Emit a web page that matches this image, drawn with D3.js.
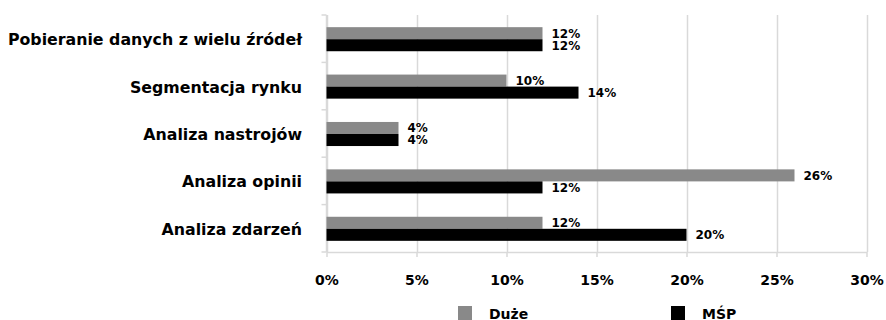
<!DOCTYPE html>
<html lang="pl">
<head>
<meta charset="utf-8">
<script src="https://cdn.jsdelivr.net/npm/d3@7"></script>
<style>
  html, body { margin: 0; padding: 0; background: #fff; }
  svg { display: block; font-family: "DejaVu Sans", Verdana, sans-serif; font-weight: bold; }
</style>
</head>
<body>
<svg id="chart" width="886" height="320"></svg>
<script>
// Categories, top to bottom
const categories = [
  "Pobieranie danych z wielu źródeł",
  "Segmentacja rynku",
  "Analiza nastrojów",
  "Analiza opinii",
  "Analiza zdarzeń"
];
const seriesNames = ["Duże", "MŚP"];
const duzeValues = [12, 10, 4, 26, 12];
const mspValues  = [12, 14, 4, 12, 20];
const xTicks = [0, 5, 10, 15, 20, 25, 30];

const colors = { "Duże": "#898989", "MŚP": "#000000" };
const gridColor = "#d9d9d9";

const svg = d3.select("#chart");
const plot = { left: 326.5, right: 866.5, top: 15, bottom: 252 };

const x = d3.scaleLinear().domain([0, 30]).range([plot.left, plot.right]);
const y0 = d3.scaleBand().domain(categories).range([plot.top, plot.bottom]);
const y1 = d3.scaleBand().domain(seriesNames).range([0, y0.bandwidth()])
  .paddingInner(0).paddingOuter(0.97);

const rows = categories.map((c, i) => ({
  category: c,
  values: [
    { series: "Duże", value: duzeValues[i] },
    { series: "MŚP", value: mspValues[i] }
  ]
}));

// Vertical gridlines
svg.append("g")
  .selectAll("line")
  .data(xTicks)
  .join("line")
  .attr("x1", d => Math.round(x(d)) + 0.5)
  .attr("x2", d => Math.round(x(d)) + 0.5)
  .attr("y1", plot.top)
  .attr("y2", plot.bottom)
  .attr("stroke", gridColor)
  .attr("stroke-width", 1.5);

// Bottom axis
const xAxis = svg.append("g")
  .attr("transform", `translate(0,${plot.bottom})`)
  .call(d3.axisBottom(x).tickValues(xTicks).tickSize(5).tickSizeOuter(0)
    .tickFormat(d => d + "%"));
xAxis.select(".domain").attr("stroke", gridColor).attr("stroke-width", 1.5);
xAxis.selectAll(".tick line").attr("stroke", gridColor).attr("stroke-width", 1.5);
xAxis.selectAll(".tick text")
  .attr("y", 28)
  .attr("dy", "0.35em")
  .attr("fill", "#000")
  .style("font-size", "14px")
  .style("font-family", "\"DejaVu Sans\", sans-serif")
  .style("font-weight", "bold");

// Left axis: category boundaries as ticks
const yAxisG = svg.append("g");
yAxisG.append("line")
  .attr("x1", plot.left).attr("x2", plot.left)
  .attr("y1", plot.top).attr("y2", plot.bottom)
  .attr("stroke", gridColor).attr("stroke-width", 1.5);
const boundaries = categories.map(c => y0(c)).concat([plot.bottom]);
yAxisG.selectAll("line.tk")
  .data(boundaries)
  .join("line")
  .attr("class", "tk")
  .attr("x1", plot.left - 5).attr("x2", plot.left)
  .attr("y1", d => d).attr("y2", d => d)
  .attr("stroke", gridColor).attr("stroke-width", 1.5);

// Category labels
svg.append("g")
  .selectAll("text")
  .data(categories)
  .join("text")
  .attr("x", 302)
  .attr("y", d => y0(d) + y0.bandwidth() / 2 + 1)
  .attr("dy", "0.35em")
  .attr("text-anchor", "end")
  .style("font-size", "15.8px")
  .attr("fill", "#000")
  .text(d => d);

// Bars
const groups = svg.append("g")
  .selectAll("g")
  .data(rows)
  .join("g")
  .attr("transform", d => `translate(0,${y0(d.category) + 0.5})`);

groups.selectAll("rect")
  .data(d => d.values)
  .join("rect")
  .attr("x", x(0))
  .attr("y", d => y1(d.series))
  .attr("width", d => x(d.value) - x(0))
  .attr("height", y1.bandwidth())
  .attr("fill", d => colors[d.series]);

// Value labels
groups.selectAll("text")
  .data(d => d.values)
  .join("text")
  .attr("x", d => x(d.value) + 9)
  .attr("y", d => y1(d.series) + y1.bandwidth() / 2)
  .attr("dy", "0.36em")
  .style("font-size", "12px")
  .attr("fill", "#000")
  .text(d => d.value + "%");

// Legend
const legendX = { "Duże": 458, "MŚP": 671 };
const legend = svg.append("g")
  .selectAll("g")
  .data(seriesNames)
  .join("g")
  .attr("transform", d => `translate(${legendX[d]},306)`);
legend.append("rect")
  .attr("width", 14).attr("height", 14)
  .attr("fill", d => colors[d]);
legend.append("text")
  .attr("x", 31)
  .attr("y", 13)
  .style("font-size", "14px")
  .attr("fill", "#000")
  .text(d => d);
</script>
</body>
</html>
